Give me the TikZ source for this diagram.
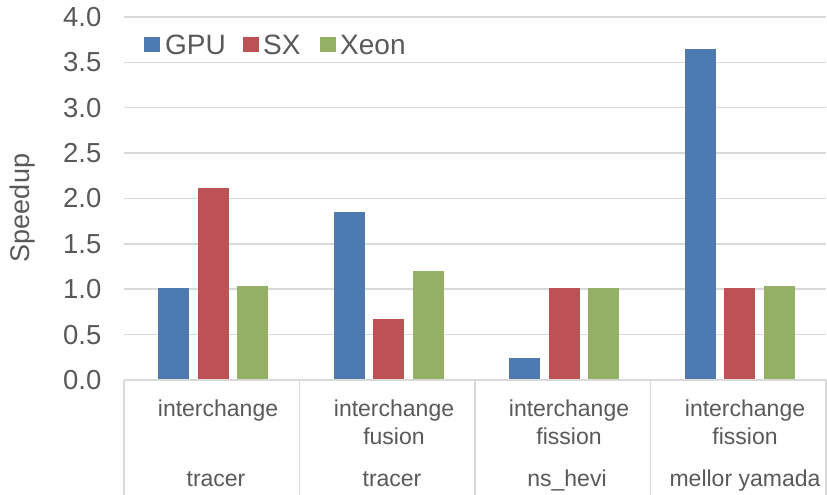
\documentclass[tikz,border=0pt]{standalone}
\usepackage{fontspec}
\setmainfont{Liberation Sans}
\usepackage{xcolor}
\definecolor{gpubar}{RGB}{78,122,178}
\definecolor{sxbar}{RGB}{188,82,84}
\definecolor{xeonbar}{RGB}{147,176,100}
\definecolor{gridgray}{RGB}{217,217,217}
\definecolor{labgray}{RGB}{89,89,89}
\newcommand{\sbar}[4]{\fill[#4] ({#1*175.5+34+#2*39.5},0) rectangle ++(31,#3);}

\begin{document}
\begin{tikzpicture}[x=1pt, y=1pt, text=labgray,
  gridline/.style={draw=gridgray, line width=1.5pt},
  ticklab/.style={anchor=east, inner sep=0pt, font=\fontsize{27.5}{30}\selectfont},
  catlab/.style={anchor=north, inner sep=0pt, align=center, font=\fontsize{23}{28}\selectfont},
  grplab/.style={anchor=base, inner sep=0pt, font=\fontsize{23}{28}\selectfont},
  legkey/.style={minimum width=16pt, minimum height=15pt, inner sep=0pt},
  legtxt/.style={anchor=west, inner sep=0pt, font=\fontsize{28}{30}\selectfont}
]
\useasboundingbox (0,0) rectangle (827,495);

%% ── Plot area ────────────────────────────────────────────────────────────────
\begin{scope}[xshift=124pt, yshift=115pt, y=90.75pt]
  \foreach \v in {0.5,1,...,4}
    \draw[gridline] (0,\v) -- (702,\v);

  % bars: group, slot, value, colour
  \sbar{0}{0}{1.01}{gpubar}
  \sbar{0}{1}{2.12}{sxbar}
  \sbar{0}{2}{1.04}{xeonbar}
  \sbar{1}{0}{1.85}{gpubar}
  \sbar{1}{1}{0.67}{sxbar}
  \sbar{1}{2}{1.20}{xeonbar}
  \sbar{2}{0}{0.24}{gpubar}
  \sbar{2}{1}{1.01}{sxbar}
  \sbar{2}{2}{1.01}{xeonbar}
  \sbar{3}{0}{3.65}{gpubar}
  \sbar{3}{1}{1.01}{sxbar}
  \sbar{3}{2}{1.04}{xeonbar}

  \draw[gridline] (0,0) -- (702,0);
  \foreach \x in {0,175.5,351,526.5,702}
    \draw[gridline] (\x pt,0pt) -- (\x pt,-115pt);

  \foreach \i/\lab in {0/0.0,1/0.5,2/1.0,3/1.5,4/2.0,5/2.5,6/3.0,7/3.5,8/4.0}
    \node[ticklab] (tk\i) at (-22.5,\i/2) {\lab};
\end{scope}

%% ── Axis title ───────────────────────────────────────────────────────────────
\node[rotate=90, inner sep=0pt, font=\fontsize{27}{30}\selectfont] (ytitle) at (23,287) {Speedup};

%% ── Category labels ──────────────────────────────────────────────────────────
\node[catlab] (c1) at (218,95) {interchange};
\node[catlab] (c2) at (394,95) {interchange\\fusion};
\node[catlab] (c3) at (569,95) {interchange\\fission};
\node[catlab] (c4) at (745,95) {interchange\\fission};

\node[grplab] (g1) at (216,8) {tracer};
\node[grplab] (g2) at (392,8) {tracer};
\node[grplab] (g3) at (567,8) {ns\_hevi};
\node[grplab] (g4) at (745,8) {mellor yamada};

%% ── Legend ───────────────────────────────────────────────────────────────────
\node[legkey, fill=gpubar]  (kgpu)  at (152,450) {};
\node[legtxt] (lgpu)  at (165,450) {GPU};
\node[legkey, fill=sxbar]   (ksx)   at (251,450) {};
\node[legtxt] (lsx)   at (263,450) {SX};
\node[legkey, fill=xeonbar] (kxeon) at (328,450) {};
\node[legtxt] (lxeon) at (340,450) {Xeon};

\end{tikzpicture}
\end{document}
